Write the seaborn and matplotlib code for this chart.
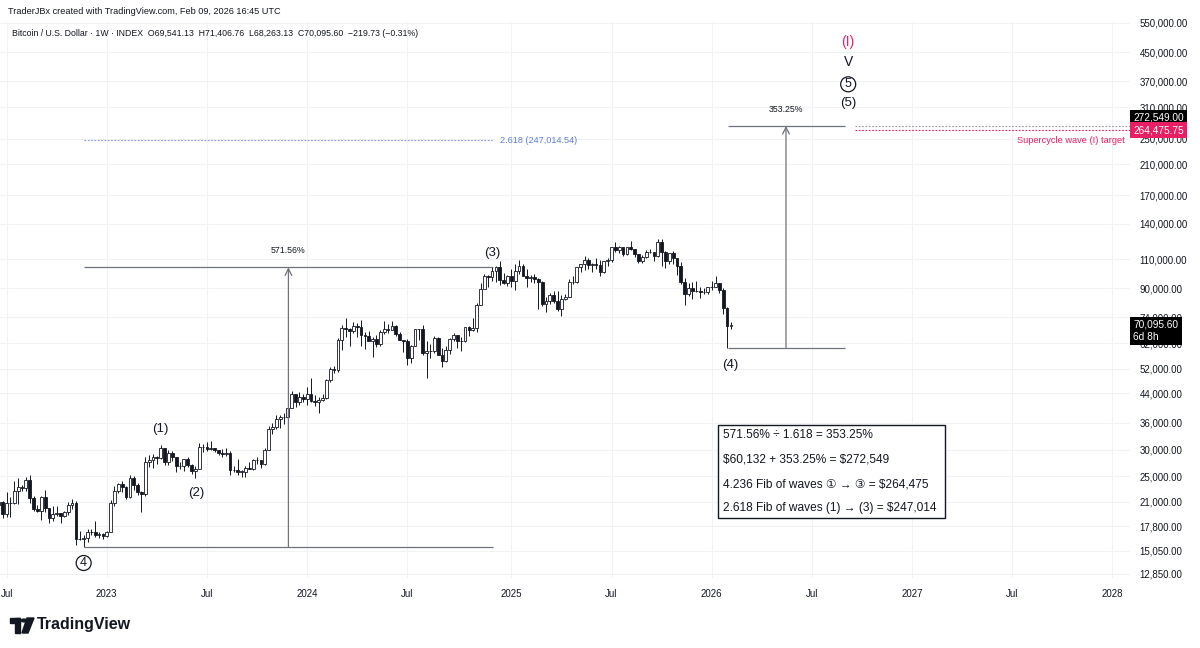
import matplotlib
matplotlib.use("Agg")
import matplotlib.pyplot as plt
import matplotlib.dates as mdates
from matplotlib.patches import Rectangle, Polygon, Circle
from matplotlib.ticker import NullLocator
import numpy as np
import pandas as pd
import seaborn as sns

# weekly BTCUSD candles, Jun 20 2022 .. Feb 09 2026 (open of each week = prior close)
first_open = 20550
close = [
    # 2022
    21030, 19300, 20850, 20790, 22580, 23300, 23170, 24440, 21520, 20030, 19790, 21650, 20120, 18800,
    19310, 19420, 19070, 19570, 20630, 20910, 16330, 16280, 16460, 17090, 17100, 16770, 16840, 16620,
    # 2023
    17130, 20880, 22700, 23740, 23330, 21780, 24640, 23560, 22430, 22100, 27600, 27980, 28450, 28300,
    30300, 27580, 29330, 28450, 26920, 26750, 28080, 27100, 25850, 26340, 30470, 30580, 30170, 30240,
    29850, 29230, 29050, 29400, 26100, 26050, 25830, 25830, 26520, 26260, 27970, 27930, 27150, 29990,
    34520, 35050, 37060, 37380, 37450, 39970, 43780, 41380, 42990, 42280,
    # 2024
    43950, 41730, 41580, 42030, 42580, 48300, 52140, 51730, 63130, 68960, 68380, 67230, 69650, 69360,
    65660, 64940, 63110, 63900, 61460, 66900, 68500, 67760, 69650, 66200, 63180, 62700, 55850, 60800,
    68150, 68250, 58120, 58700, 58920, 64200, 57300, 54870, 59130, 63580, 65630, 62860, 62870, 69030,
    68030, 68780, 80400, 89850, 97700, 97270, 101170, 104440, 95100, 93700, 98300,
    # 2025
    94500, 101300, 104700, 97700, 96500, 97570, 96270, 94270, 80700, 82600, 86080, 82550, 78400, 83750,
    85170, 93750, 94300, 104000, 106450, 109000, 105700, 105700, 105600, 101000, 108350, 109200, 119100,
    117300, 119400, 114200, 119300, 117400, 113500, 108250, 111150, 115300, 115300, 112200, 123500,
    115200, 108600, 114500, 110500, 104700, 94200, 86800, 90400, 88200, 88200, 88100, 87800, 90600,
    # 2026
    90800, 93500, 89000, 78600, 69541.13, 70095.60,
]
high = [
    21900, 21100, 22500, 21650, 24280, 24670, 23650, 24900, 25200, 21870, 20570, 21800, 22800, 19960,
    20380, 20480, 19520, 19690, 21020, 21480, 21100, 17190, 16770, 17430, 17420, 18380, 17060, 16970,
    17170, 21260, 23370, 23960, 24250, 23420, 25250, 25130, 23900, 22600, 28500, 28870, 29170, 28800,
    30990, 30300, 30000, 29800, 28620, 27650, 28200, 28450, 27150, 26800, 31400, 31250, 31500, 31800,
    30340, 29990, 30050, 30250, 29690, 26830, 28140, 26100, 26890, 27480, 28050, 28600, 27980, 30350,
    35200, 35950, 37980, 37900, 38430, 40200, 44700, 43400, 44400, 43800,
    45900, 49000, 43580, 42840, 43880, 48590, 52820, 52990, 64000, 69990, 73800, 68900, 71760, 71300,
    72800, 66900, 67200, 64700, 65500, 67700, 71950, 70600, 71990, 70200, 67000, 63400, 63800, 61400,
    68000, 68400, 70000, 62700, 61800, 65000, 64500, 59800, 60650, 64130, 66500, 65560, 64500, 69400,
    69500, 73600, 81500, 93480, 99600, 98800, 104000, 105250, 108300, 99960, 98900,
    102700, 106000, 109600, 106450, 102500, 98800, 99500, 96500, 95000, 85000, 87450, 88750, 88500, 86100,
    86500, 95800, 97900, 104300, 105800, 111980, 110700, 106800, 110500, 108900, 108500, 110500, 119500,
    123200, 120200, 119800, 119300, 124450, 117600, 113600, 113400, 116800, 117900, 115400, 125700,
    126200, 115900, 114000, 116400, 110600, 107500, 96600, 93100, 94200, 94600, 90600, 90500, 91000,
    94800, 97900, 93600, 90500, 79300, 71406.76,
]
low = [
    19650, 18780, 19000, 18900, 20760, 20700, 22670, 22660, 20800, 19800, 19550, 18540, 19600, 18150,
    18480, 19080, 18190, 18900, 19240, 20060, 15630, 16250, 15480, 16010, 16740, 16530, 16400, 16330,
    16550, 17120, 20400, 22300, 22500, 21450, 21530, 22760, 21980, 19570, 21900, 26600, 26550, 27200,
    28170, 27100, 26940, 27670, 25800, 26350, 25860, 26600, 25350, 24800, 26250, 29500, 29700, 29950,
    29600, 28900, 28600, 28700, 25200, 25800, 25300, 24900, 24930, 26260, 26050, 27200, 26550, 26960,
    29900, 33400, 34530, 34800, 35650, 36700, 39950, 40200, 40550, 41500,
    40750, 41500, 40280, 38550, 41880, 42290, 47700, 50600, 50900, 59000, 64600, 60800, 66500, 64500,
    60700, 59600, 62800, 56550, 60200, 60750, 66050, 66600, 68500, 65000, 63400, 58400, 53500, 54250,
    60600, 63400, 57100, 49000, 56100, 57800, 57200, 52550, 54580, 57500, 62700, 59820, 58900, 62450,
    65100, 67500, 66800, 80300, 89400, 90800, 94650, 94150, 92200, 92500, 91300,
    91200, 89250, 99500, 97800, 91200, 94000, 93300, 78200, 80000, 76600, 81200, 81600, 77100, 74500,
    83100, 85100, 92800, 93400, 100800, 102100, 103100, 100400, 102800, 98200, 100000, 105100, 107500,
    115700, 114700, 112000, 112700, 116800, 111700, 107300, 107300, 110600, 114400, 108600, 111600,
    104600, 103500, 106600, 106300, 98900, 93000, 80600, 85300, 83800, 87600, 84400, 86500, 86800,
    89300, 90900, 87200, 75700, 60132, 68263.13,
]

price_ticks = [12850, 15050, 17800, 21000, 25000, 30000, 36000, 44000, 52000, 62000, 74000,
               90000, 110000, 140000, 170000, 210000, 250000, 310000, 370000, 450000, 550000]
time_ticks = ["2022-07-04", "2023-01-02", "2023-07-03", "2024-01-01", "2024-07-01", "2025-01-06",
              "2025-07-07", "2026-01-05", "2026-07-06", "2027-01-04", "2027-07-05", "2028-01-03"]
time_labels = ["Jul", "2023", "Jul", "2024", "Jul", "2025", "Jul", "2026", "Jul", "2027", "Jul", "2028"]

wave4_low, wave3_ref = 15476, 103931
wave4b_low, target_a, target_b, target_c = 60132, 272549.00, 264475.75, 247014.54
last_price = 70095.60

INK = "#131722"
LINE = "#6f727c"
PINK = "#e91e63"
BLUE = "#5d7fd9"

sns.set_theme(style="white")
plt.rcParams["font.family"] = ["Liberation Sans", "DejaVu Sans", "Noto Sans CJK JP"]
plt.rcParams["text.parse_math"] = False

fig = plt.figure(figsize=(12, 6.48), dpi=100)
ax = fig.add_axes([0, 70 / 648, 1130 / 1200, 556 / 648])
ax.set_yscale("log")

weeks = pd.date_range("2022-06-20", periods=len(close), freq="7D")
c = np.array(close)
o = np.array([first_open] + close[:-1])
h = np.array(high)
lo = np.array(low)
up = c >= o

ax.vlines(weeks, lo, h, color=INK, lw=0.7, zorder=2)
body = np.maximum(np.abs(c - o), c * 0.004)
ax.bar(weeks, body, bottom=np.minimum(o, c), width=5,
       color=np.where(up, "white", INK), edgecolor=INK, linewidth=0.6, zorder=3)

d = pd.Timestamp
# wave (4) -> (3) measurement
ax.hlines([wave4_low, wave3_ref], d("2022-11-21"), d("2024-12-03"), color=LINE, lw=0.9, zorder=4)
ax.annotate("", xy=(d("2023-11-28"), wave3_ref), xytext=(d("2023-11-28"), wave4_low),
            arrowprops=dict(arrowstyle="->", color=LINE, lw=0.9, shrinkA=0, shrinkB=0), zorder=4)
ax.annotate("571.56%", xy=(d("2023-11-28"), wave3_ref), xytext=(0, 12), textcoords="offset points",
            ha="center", va="center", fontsize=6.3, color=INK)

# projection from wave (4)
ax.hlines([wave4b_low, target_a], d("2026-02-03"), d("2026-09-04"), color=LINE, lw=0.9, zorder=4)
ax.annotate("", xy=(d("2026-05-20"), target_a), xytext=(d("2026-05-20"), wave4b_low),
            arrowprops=dict(arrowstyle="->", color=LINE, lw=0.9, shrinkA=0, shrinkB=0), zorder=4)
ax.annotate("353.25%", xy=(d("2026-05-20"), target_a), xytext=(0, 12), textcoords="offset points",
            ha="center", va="center", fontsize=6.3, color=INK)

# 2.618 fib level
ax.hlines(target_c, d("2022-11-21"), d("2024-12-01"), color=BLUE, lw=0.8, linestyles=(0, (1.5, 1.5)), alpha=0.8)
ax.text(d("2024-12-16"), target_c, "2.618 (247,014.54)", color=BLUE, fontsize=6.6, va="center", ha="left")

# target lines on the right
xr = d("2028-02-04")
ax.hlines(target_a, d("2026-09-22"), xr, color="#9598a1", lw=0.8, linestyles=(0, (1.5, 1.5)))
ax.hlines(target_b, d("2026-09-22"), xr, color=PINK, lw=0.8, linestyles=(0, (1.5, 1.5)))
ax.text(d("2028-01-26"), 247600, "Supercycle wave (I) target", color=PINK, fontsize=6.7,
        ha="right", va="center")

# wave labels
circ = dict(boxstyle="circle,pad=0.12", fc="white", ec=INK, lw=0.9)
ax.text(d("2026-09-10"), 483000, "(I)", color=PINK, fontsize=10, ha="center", va="center")
ax.text(d("2026-09-10"), 421000, "V", color=INK, fontsize=10, ha="center", va="center")
ax.text(d("2026-09-10"), 362000, "5", color=INK, fontsize=9, ha="center", va="center", bbox=circ)
ax.text(d("2026-09-10"), 318000, "(5)", color=INK, fontsize=9.5, ha="center", va="center")
ax.text(d("2024-12-03"), 114500, "(3)", color=INK, fontsize=9.5, ha="center", va="center")
ax.text(d("2026-02-07"), 53400, "(4)", color=INK, fontsize=9.5, ha="center", va="center")
ax.text(d("2023-04-10"), 34500, "(1)", color=INK, fontsize=9.5, ha="center", va="center")
ax.text(d("2023-06-13"), 22300, "(2)", color=INK, fontsize=9.5, ha="center", va="center")
ax.text(d("2022-11-21"), 13850, "4", color=INK, fontsize=9, ha="center", va="center", bbox=circ)

# calculation box
x0 = mdates.date2num(d("2026-01-17"))
x1 = mdates.date2num(d("2027-03-04"))
ax.add_patch(Rectangle((x0, 18820), x1 - x0, 35500 - 18820, fill=True, fc="white",
                       ec=INK, lw=1.0, zorder=5))
notes = ["571.56% ÷ 1.618 = 353.25%",
         "$60,132 + 353.25% = $272,549",
         "4.236 Fib of waves \u2460 \u2192 \u2462 = $264,475",
         "2.618 Fib of waves (1) \u2192 (3) = $247,014"]
for txt, yp in zip(notes, [33100, 28100, 23700, 20100]):
    ax.text(d("2026-01-25"), yp, txt, fontsize=8.6, color=INK, ha="left", va="center", zorder=6)

# axes cosmetics
ax.set_xlim(d("2022-06-22"), xr)
ax.set_ylim(12504, 553500)
ax.yaxis.tick_right()
ax.yaxis.set_minor_locator(NullLocator())
ax.set_yticks(price_ticks)
ax.set_yticklabels([f"{p:,.2f}" for p in price_ticks])
ax.set_xticks([d(t) for t in time_ticks])
ax.set_xticklabels(time_labels)
ax.tick_params(axis="y", length=0, pad=7, labelsize=7, labelcolor=INK)
ax.tick_params(axis="x", length=0, pad=8, labelsize=7, labelcolor=INK)
ax.grid(True, color="#f0f2f6", lw=0.8)
ax.set_axisbelow(True)
sns.despine(ax=ax, left=True, bottom=True, right=True, top=True)

# price-scale labels (they sit on top of the axis labels, as on the reference)
def scale_label(price, text, bg, dy):
    ax.annotate(text, xy=(1.0, price), xycoords=("axes fraction", "data"), xytext=(2.5, dy),
                textcoords="offset points", ha="left", va="center", fontsize=7.3, color="white",
                bbox=dict(boxstyle="square,pad=0.3", fc=bg, ec="none"), annotation_clip=False,
                linespacing=1.3, zorder=10)

scale_label(target_a, "272,549.00", "black", 5.8)
scale_label(target_b, "264,475.75", PINK, 0)
scale_label(last_price, "70,095.60\n6d 8h  ", "black", -4.3)

# header
fig.text(8 / 1200, 1 - 12 / 648, "TraderJBx created with TradingView.com, Feb 09, 2026 16:45 UTC",
         fontsize=6.6, color=INK, va="center")
fig.text(12 / 1200, 1 - 33 / 648,
         "Bitcoin / U.S. Dollar \u00b7 1W \u00b7 INDEX  O69,541.13  H71,406.76  L68,263.13  C70,095.60  \u2212219.73 (\u22120.31%)",
         fontsize=6.35, color=INK, va="center")

# TradingView logo
def px(x, y):
    return (x / 1200, 1 - y / 648)

for r in [Rectangle(px(10, 623), 10 / 1200, 5 / 648), Rectangle(px(15, 633), 5 / 1200, 15 / 648)]:
    r.set_transform(fig.transFigure); r.set_color(INK); fig.add_artist(r)
dot = Circle(px(24, 620.5), 2.6 / 1200, transform=fig.transFigure, color=INK)
fig.add_artist(dot)
seven = Polygon([px(27, 618), px(34, 618), px(28, 633), px(22, 633)], closed=True,
                transform=fig.transFigure, color=INK)
fig.add_artist(seven)
fig.text(37 / 1200, 1 - 625 / 648, "TradingView", fontsize=11.5, weight="bold", color=INK, va="center")

fig.savefig("out.png", dpi=100, facecolor="white")
